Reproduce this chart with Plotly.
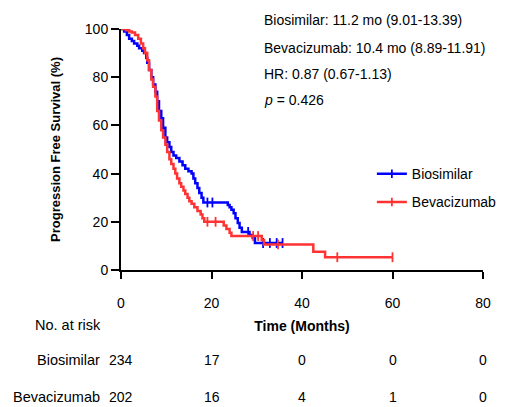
import plotly.graph_objects as go

FONT = "Arial, Liberation Sans, sans-serif"

# ---- data ----
x_ticks = [0, 20, 40, 60, 80]
y_ticks = [0, 20, 40, 60, 80, 100]

bio_t = [0, 0.7, 1.3, 1.8, 2.4, 2.9, 3.6, 4.0, 4.7, 5.1, 5.6, 5.8, 6.2, 6.7, 7.1, 7.6,
         8.0, 8.4, 8.9, 9.3, 9.8, 10.2, 10.7, 11.1, 11.6, 12.2, 12.9, 13.6, 14.2, 14.9,
         15.6, 16.0, 16.4, 16.9, 17.3, 17.8, 18.2, 23.6, 24.0, 24.4, 24.9, 25.3, 25.8,
         26.2, 26.7, 28.4, 29.1, 29.6]
bio_s = [100, 99, 97.5, 96, 95, 94, 93, 92, 91, 90, 88, 86, 83, 80, 77, 74,
         70, 66, 63, 59, 55, 53, 51, 49, 47.5, 46.5, 45, 43.5, 42, 41,
         40, 38, 36, 34, 32, 30, 28, 27, 26, 25, 23.5, 21.5, 19.5,
         17.5, 15.8, 14.5, 13.3, 11.2]
bio_cens = [19.1, 20.2, 28.1, 31.4, 32.9, 34.4, 35.7]

bev_t = [0, 1.1, 1.8, 2.4, 3.1, 3.8, 4.4, 4.9, 5.3, 5.8, 6.2, 6.7, 7.1, 7.6, 8.0,
         8.4, 8.9, 9.3, 9.8, 10.2, 10.7, 11.1, 11.6, 12.0, 12.4, 12.9, 13.3, 13.8,
         14.2, 14.7, 15.1, 15.6, 16.2, 16.9, 17.6, 18.0, 18.4, 22.7, 23.3, 24.0,
         24.4, 31.1, 31.6, 42.5, 45.1]
bev_s = [100, 99.5, 99, 98.5, 97.5, 96, 94, 92, 90, 87, 83, 79, 76, 72, 66,
         62, 58, 55, 52, 49, 46, 44, 42, 40, 38, 36, 34.5, 33,
         31.5, 30, 28.5, 27.5, 26, 24.5, 23, 21.5, 20, 18.5, 17, 15.5,
         14.1, 12.4, 10.6, 7.6, 5.3]
bev_cens = [19.1, 20.9, 29.2, 30.3, 34.7, 47.8, 60.0]

risk_times = [0, 20, 40, 60, 80]
bio_risk = [234, 17, 0, 0, 0]
bev_risk = [202, 16, 4, 1, 0]

stats_lines = ["Biosimilar: 11.2 mo (9.01-13.39)",
               "Bevacizumab: 10.4 mo (8.89-11.91)",
               "HR: 0.87 (0.67-1.13)",
               "<i>p</i> = 0.426"]

BLUE = "#0000ff"
RED = "#ff3333"


def level_at(t, times, surv):
    v = surv[0]
    for tt, ss in zip(times, surv):
        if tt <= t:
            v = ss
    return v


def curve(times, surv, cens):
    xs, ys = list(times), list(surv)
    if max(cens) > xs[-1]:
        xs.append(max(cens))
        ys.append(ys[-1])
    cy = [level_at(c, times, surv) for c in cens]
    return xs, ys, cy


fig = go.Figure()
for name, t, s, c, col in [("Biosimilar", bio_t, bio_s, bio_cens, BLUE),
                           ("Bevacizumab", bev_t, bev_s, bev_cens, RED)]:
    xs, ys, cy = curve(t, s, c)
    fig.add_trace(go.Scatter(x=xs, y=ys, mode="lines", line=dict(color=col, width=2.5, shape="hv"),
                             showlegend=False, cliponaxis=False, hoverinfo="skip"))
    fig.add_trace(go.Scatter(x=c, y=cy, mode="markers", showlegend=False, cliponaxis=False,
                             marker=dict(symbol="line-ns", size=7, line=dict(color=col, width=1.8))))

for name, col in [("Biosimilar", BLUE), ("Bevacizumab", RED)]:
    fig.add_trace(go.Scatter(x=[None], y=[None], mode="lines+markers", name=name, legendgroup=name,
                             line=dict(color=col, width=2.5),
                             marker=dict(symbol="line-ns", size=6, line=dict(color=col, width=1.8))))

ann = []
y_stats = [1.037, 0.921, 0.813, 0.705]
for txt, yy in zip(stats_lines, y_stats):
    ann.append(dict(text=txt, x=0.3895, y=yy, xref="paper", yref="paper", xanchor="left",
                    yanchor="middle", showarrow=False, font=dict(size=14, color="black")))

ann.append(dict(text="No. at risk", x=-0.0497, y=-0.228, xref="paper", yref="paper",
                xanchor="right", yanchor="middle", showarrow=False, font=dict(size=14.5, color="black")))
for label, vals, yy in [("Biosimilar", bio_risk, -0.373), ("Bevacizumab", bev_risk, -0.527)]:
    ann.append(dict(text=label, x=-0.0525, y=yy, xref="paper", yref="paper", xanchor="right",
                    yanchor="middle", showarrow=False, font=dict(size=14.5, color="black")))
    for tx, v in zip(risk_times, vals):
        ann.append(dict(text=str(v), x=tx, y=yy, xref="x", yref="paper", xanchor="center",
                        yanchor="middle", showarrow=False, font=dict(size=14, color="black")))

# the page body adds an 8px margin, so the figure is 8px smaller on each axis
fig.update_layout(
    width=502, height=399,
    margin=dict(l=113, r=27, t=21, b=137, autoexpand=False),
    paper_bgcolor="white", plot_bgcolor="white",
    font=dict(family=FONT, size=14, color="black"),
    xaxis=dict(range=[0, 80], tickvals=x_ticks, ticks="outside", ticklen=7, tickwidth=2,
               tickcolor="black", showline=True, linewidth=2, linecolor="black",
               showgrid=False, zeroline=False, ticklabelstandoff=12,
               title=dict(text="<b>Time (Months)</b>", font=dict(size=14), standoff=11)),
    yaxis=dict(range=[0, 100], tickvals=y_ticks, ticks="outside", ticklen=8, tickwidth=2,
               tickcolor="black", showline=True, linewidth=2, linecolor="black",
               showgrid=False, zeroline=False,
               title=dict(text="<b>Progression Free Survival (%)</b>", font=dict(size=13), standoff=21)),
    legend=dict(x=0.693, y=0.464, xanchor="left", yanchor="top", traceorder="grouped",
                tracegroupgap=7, font=dict(size=14), bgcolor="rgba(0,0,0,0)"),
    annotations=ann,
)

fig.write_html("out.html")
